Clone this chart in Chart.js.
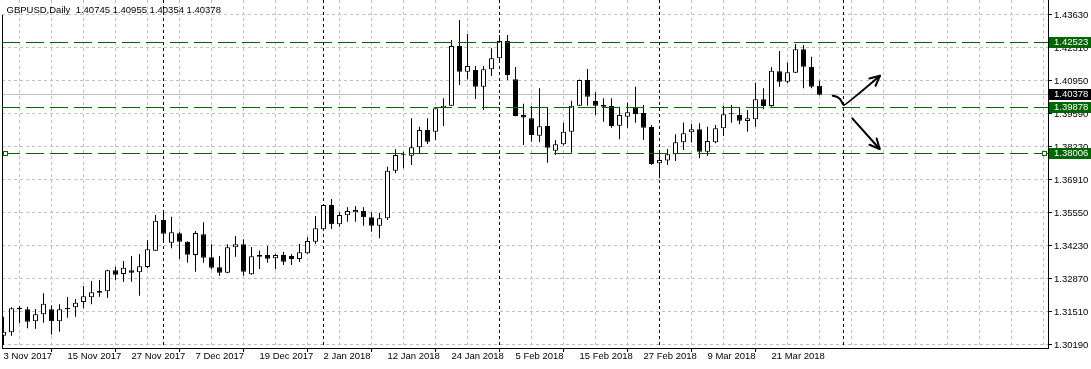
<!DOCTYPE html>
<html><head><meta charset="utf-8">
<script src="https://cdn.jsdelivr.net/npm/chart.js@4.4.1/dist/chart.umd.min.js"></script>
<style>html,body{margin:0;padding:0;background:#fff;overflow:hidden}canvas{display:block}</style>
</head><body>
<canvas id="c" width="1091" height="369" style="width:1091px;height:369px"></canvas>
<script>
const symbol = 'GBPUSD';
const period = 'Daily';
const opens = [1.30569,1.30707,1.31709,1.31644,1.31155,1.3144,1.31644,1.31155,1.31644,1.31725,
1.31941,1.32133,1.32389,1.32377,1.33232,1.33082,1.33232,1.33151,1.33367,1.34031,
1.35281,1.34356,1.34739,1.34397,1.33855,1.34698,1.33762,1.33354,1.33135,1.34169,
1.34291,1.33069,1.33855,1.33855,1.33721,1.33855,1.33815,1.33693,1.33925,1.34397,
1.34902,1.35892,1.35106,1.35472,1.35594,1.35647,1.35391,1.35049,1.3535,1.37289,
1.37928,1.379,1.38242,1.38946,1.38877,1.3983,1.39936,1.42367,1.41321,1.4139,
1.4071,1.41418,1.41866,1.42571,1.41011,1.39557,1.39423,1.38714,1.39109,1.38103,
1.38364,1.38877,1.39936,1.40983,1.40127,1.39964,1.39924,1.39121,1.39488,1.39871,
1.39639,1.39068,1.3759,1.37704,1.37957,1.38445,1.38857,1.38979,1.38063,1.38445,
1.39016,1.39586,1.39557,1.39313,1.39382,1.40197,1.39924,1.41337,1.40913,1.4128,
1.42233,1.41524,1.40745];
const highs = [1.31343,1.31725,1.31778,1.3175,1.31656,1.32296,1.31807,1.31848,1.32145,1.32063,
1.32593,1.32797,1.32837,1.33257,1.33379,1.33611,1.33815,1.33896,1.34454,1.35485,
1.35594,1.35415,1.34804,1.34413,1.34833,1.35187,1.34291,1.33815,1.34291,1.34629,
1.34495,1.34181,1.34031,1.34222,1.33896,1.3399,1.33896,1.34303,1.34576,1.35444,
1.35933,1.36136,1.35594,1.35798,1.35851,1.35798,1.35594,1.35578,1.37452,1.3816,
1.38063,1.39423,1.39081,1.39423,1.3983,1.40237,1.42612,1.43426,1.42856,1.41553,
1.41553,1.42274,1.42815,1.42815,1.41512,1.40017,1.39924,1.40645,1.39871,1.38539,
1.39244,1.4014,1.41003,1.41431,1.40482,1.40237,1.40237,1.39895,1.40058,1.4071,
1.39964,1.3915,1.37969,1.38172,1.38775,1.39252,1.39191,1.39219,1.39081,1.3915,
1.39936,1.39964,1.39871,1.39761,1.40873,1.40645,1.415,1.42164,1.41687,1.42449,
1.42408,1.41932,1.40955];
const lows = [1.3019,1.30569,1.31074,1.3087,1.30854,1.31098,1.3061,1.30732,1.31302,1.31343,
1.31685,1.31848,1.32157,1.32104,1.32825,1.32756,1.32768,1.32198,1.33314,1.34018,
1.34466,1.34128,1.33693,1.33542,1.33175,1.33542,1.33273,1.33012,1.3311,1.33786,
1.33012,1.33053,1.33285,1.33542,1.33285,1.33448,1.33448,1.33583,1.33896,1.34303,
1.34886,1.34914,1.35008,1.35212,1.35212,1.35049,1.34804,1.34536,1.35281,1.37183,
1.37386,1.37521,1.37997,1.38376,1.38539,1.39109,1.39924,1.40779,1.41011,1.40209,
1.39761,1.41146,1.41716,1.40983,1.39504,1.38335,1.3847,1.38458,1.37615,1.37928,
1.38315,1.38022,1.39924,1.39936,1.39557,1.39284,1.3904,1.38568,1.3904,1.39244,
1.38539,1.37521,1.36979,1.37521,1.37684,1.38132,1.38437,1.37794,1.37887,1.38405,
1.38702,1.39244,1.39178,1.38877,1.39081,1.39789,1.39895,1.4071,1.40848,1.41268,
1.40645,1.40645,1.40354];
const closes = [1.30732,1.31685,1.31644,1.31139,1.3144,1.31872,1.31155,1.31644,1.31697,1.31913,
1.32173,1.32336,1.3232,1.33232,1.33053,1.33338,1.33135,1.33395,1.34088,1.35252,
1.34723,1.3478,1.34397,1.33868,1.34751,1.33745,1.33338,1.33135,1.34169,1.34291,
1.33175,1.33802,1.33786,1.33705,1.33855,1.33583,1.33693,1.33965,1.34426,1.34943,
1.35892,1.35106,1.35485,1.35647,1.35688,1.35391,1.35049,1.3535,1.37289,1.37928,
1.37916,1.38242,1.38946,1.3847,1.3983,1.39936,1.42367,1.41321,1.41553,1.4071,
1.41418,1.41866,1.42571,1.41186,1.39516,1.39455,1.38743,1.39097,1.38225,1.38364,
1.38877,1.39936,1.40983,1.40303,1.39936,1.39895,1.39109,1.39557,1.39667,1.39598,
1.3904,1.37562,1.37724,1.37957,1.38445,1.38812,1.38979,1.38063,1.38498,1.39016,
1.39586,1.39598,1.39325,1.39423,1.40197,1.39924,1.41361,1.40913,1.41296,1.42233,
1.41524,1.4071,1.40378];
const dateTickIndex = [0,8,16,24,32,40,48,56,64,72,80,88,96];
const dateTickLabels = ['3 Nov 2017','15 Nov 2017','27 Nov 2017','7 Dec 2017','19 Dec 2017','2 Jan 2018',
  '12 Jan 2018','24 Jan 2018','5 Feb 2018','15 Feb 2018','27 Feb 2018','9 Mar 2018','21 Mar 2018'];
const separatorIndex = [20,40,62,82,105];
const priceTickLabels = ['1.30190','1.31510','1.32870','1.34230','1.35550','1.36910','1.38230','1.39590','1.40950','1.42310','1.43630'];
const levelLines = [1.42523, 1.39878, 1.38006];
const selectedLevel = 1.38006;
const bidPrice = 1.40378;
const arrowUpPath = [[103.65,1.40343],[104.35,1.40303],[104.75,1.40127],[104.94,1.39985],[105.19,1.39944],[109.56,1.41158]];
const arrowDownPath = [[106.1,1.39423],[109.52,1.38173]];

const FONT = 'Liberation Sans';
const idx = opens.map((_, i) => i);
const labelMap = {};
dateTickIndex.forEach((v, k) => labelMap[v] = dateTickLabels[k]);
const gridIdx = [];
for (let v = 0; v <= 128; v += 4) gridIdx.push(v);
const yFirst = parseFloat(priceTickLabels[0]);
const yLast = parseFloat(priceTickLabels[priceTickLabels.length - 1]);
const yStep = (yLast - yFirst) / (priceTickLabels.length - 1);

function zeroPad(scale) { scale.paddingLeft = 0; scale.paddingRight = 0; scale.paddingTop = 0; scale.paddingBottom = 0; }

function drawArrowHead(ctx, x0, y0, x1, y1) {
  const ang = Math.atan2(y1 - y0, x1 - x0);
  const L = 11, sp = 0.45;
  ctx.beginPath();
  ctx.moveTo(x1 - L * Math.cos(ang - sp), y1 - L * Math.sin(ang - sp));
  ctx.lineTo(x1, y1);
  ctx.lineTo(x1 - L * Math.cos(ang + sp), y1 - L * Math.sin(ang + sp));
  ctx.stroke();
}

const overlay = {
  id: 'overlay',
  beforeDatasetsDraw(chart) {
    const {ctx, chartArea: a, scales: {x, y}} = chart;
    ctx.save();
    ctx.beginPath(); ctx.rect(a.left, a.top, a.right - a.left, a.bottom - a.top); ctx.clip();
    ctx.lineWidth = 1;
    ctx.strokeStyle = '#000';
    ctx.setLineDash([3, 3]);
    separatorIndex.forEach(i => {
      const px = Math.floor(x.getPixelForValue(i)) + 0.5;
      ctx.beginPath(); ctx.moveTo(px, a.top); ctx.lineTo(px, a.bottom); ctx.stroke();
    });
    ctx.setLineDash([]);
    ctx.strokeStyle = '#c0c0c0';
    const by = Math.floor(y.getPixelForValue(bidPrice)) + 0.5;
    ctx.beginPath(); ctx.moveTo(a.left, by); ctx.lineTo(a.right, by); ctx.stroke();
    ctx.restore();
  },
  afterDatasetsDraw(chart) {
    const {ctx, chartArea: a, scales: {x, y}} = chart;
    ctx.save();
    ctx.beginPath(); ctx.rect(a.left, a.top, a.right - a.left, a.bottom - a.top); ctx.clip();
    ctx.strokeStyle = '#006400';
    ctx.lineWidth = 1;
    ctx.setLineDash([18, 6]);
    levelLines.forEach(v => {
      const py = Math.floor(y.getPixelForValue(v)) + 0.5;
      ctx.beginPath(); ctx.moveTo(a.left, py); ctx.lineTo(a.right, py); ctx.stroke();
    });
    ctx.setLineDash([]);
    // hand drawn arrows
    ctx.strokeStyle = '#000';
    ctx.lineWidth = 2;
    ctx.lineCap = 'round'; ctx.lineJoin = 'round';
    const up = arrowUpPath.map(p => [x.getPixelForValue(p[0]), y.getPixelForValue(p[1])]);
    ctx.beginPath();
    ctx.moveTo(up[0][0], up[0][1]);
    for (let k = 1; k < up.length - 2; k++) {
      const mx = (up[k][0] + up[k + 1][0]) / 2, my = (up[k][1] + up[k + 1][1]) / 2;
      ctx.quadraticCurveTo(up[k][0], up[k][1], mx, my);
    }
    ctx.quadraticCurveTo(up[up.length - 2][0], up[up.length - 2][1], up[up.length - 1][0], up[up.length - 1][1]);
    ctx.stroke();
    drawArrowHead(ctx, up[up.length - 2][0], up[up.length - 2][1], up[up.length - 1][0], up[up.length - 1][1]);
    const dn = arrowDownPath.map(p => [x.getPixelForValue(p[0]), y.getPixelForValue(p[1])]);
    ctx.beginPath(); ctx.moveTo(dn[0][0], dn[0][1]); ctx.lineTo(dn[1][0], dn[1][1]); ctx.stroke();
    drawArrowHead(ctx, dn[0][0], dn[0][1], dn[1][0], dn[1][1]);
    ctx.restore();
  },
  afterDraw(chart) {
    const {ctx, chartArea: a, scales: {x, y}} = chart;
    const last = opens.length - 1;
    ctx.save();
    // left border
    ctx.strokeStyle = '#000'; ctx.lineWidth = 1;
    ctx.beginPath(); ctx.moveTo(a.left + 0.5, 15); ctx.lineTo(a.left + 0.5, a.bottom); ctx.stroke();
    // header
    ctx.fillStyle = '#000';
    ctx.font = '9.5px "' + FONT + '"';
    ctx.textBaseline = 'middle'; ctx.textAlign = 'left';
    ctx.fillText(symbol + ',' + period + '  ' + [opens[last], highs[last], lows[last], closes[last]].map(v => v.toFixed(5)).join(' '), 6.5, 10.5);
    // selection markers
    const sy = Math.floor(y.getPixelForValue(selectedLevel)) + 0.5;
    ctx.strokeStyle = '#006400'; ctx.fillStyle = '#fff';
    [a.left + 3.5, a.right - 3.5].forEach(cx => {
      ctx.fillRect(cx - 2.5, sy - 2.5, 5, 5);
      ctx.strokeRect(cx - 2, sy - 2, 4, 4);
    });
    // price boxes
    const boxes = levelLines.map(v => ({v, bg: '#006400'})).concat([{v: bidPrice, bg: '#000'}]);
    boxes.forEach(b => {
      const py = Math.floor(y.getPixelForValue(b.v));
      ctx.fillStyle = b.bg;
      ctx.fillRect(a.right + 1, py - 5, 42, 11);
      ctx.fillStyle = '#fff';
      ctx.fillText(b.v.toFixed(5), a.right + 6, py + 0.5);
    });
    ctx.restore();
  }
};

new Chart(document.getElementById('c'), {
  type: 'bar',
  data: {
    datasets: [
      {
        label: 'bodies',
        data: idx.map(i => ({x: i, y: [opens[i], closes[i]]})),
        backgroundColor: idx.map(i => closes[i] >= opens[i] ? '#ffffff' : '#000000'),
        borderColor: '#000',
        borderWidth: 1,
        borderSkipped: false,
        barThickness: 5,
        minBarLength: 1,
        inflateAmount: 0,
        grouped: false,
        order: 1
      },
      {
        label: 'wicks',
        data: idx.map(i => ({x: i, y: [lows[i], highs[i]]})),
        backgroundColor: '#000',
        borderWidth: 0,
        barThickness: 1,
        inflateAmount: 0,
        grouped: false,
        order: 2
      }
    ]
  },
  options: {
    responsive: false,
    animation: false,
    devicePixelRatio: 1,
    events: [],
    layout: {padding: {left: 2, top: 0, right: 0, bottom: 0}},
    plugins: {legend: {display: false}, tooltip: {enabled: false}, title: {display: false}},
    scales: {
      x: {
        type: 'linear',
        position: 'bottom',
        min: -0.1875,
        max: 130.5625,
        offset: false,
        afterBuildTicks: s => { s.ticks = gridIdx.map(v => ({value: v})); },
        afterFit: s => { s.height = 21; zeroPad(s); },
        grid: {
          color: c => (c.tick && c.tick.value === 0) ? 'rgba(0,0,0,0)' : '#c0c0c0',
          lineWidth: 1,
          drawTicks: true,
          tickLength: 4,
          tickColor: c => (c.tick && labelMap[c.tick.value] !== undefined) ? '#000' : 'rgba(0,0,0,0)'
        },
        border: {display: true, color: '#000', width: 1, dash: [3, 3]},
        ticks: {
          autoSkip: false, maxRotation: 0, minRotation: 0,
          align: 'start', padding: 0, color: '#000',
          font: {family: FONT, size: 9.5, lineHeight: 1},
          callback: v => labelMap[v] !== undefined ? labelMap[v] : ''
        }
      },
      y: {
        type: 'linear',
        position: 'right',
        min: 1.300678,
        max: 1.442409,
        afterBuildTicks: s => { s.ticks = priceTickLabels.map((_, k) => ({value: yFirst + k * yStep})); },
        afterFit: s => { s.width = 43; zeroPad(s); },
        grid: {color: '#c0c0c0', lineWidth: 1, drawTicks: true, tickLength: 4, tickColor: '#000'},
        border: {display: true, color: '#000', width: 1, dash: [3, 3]},
        ticks: {
          autoSkip: false, padding: 2, color: '#000',
          font: {family: FONT, size: 9.5},
          callback: (v, k) => priceTickLabels[k]
        }
      }
    }
  },
  plugins: [overlay]
});
</script>
</body></html>
